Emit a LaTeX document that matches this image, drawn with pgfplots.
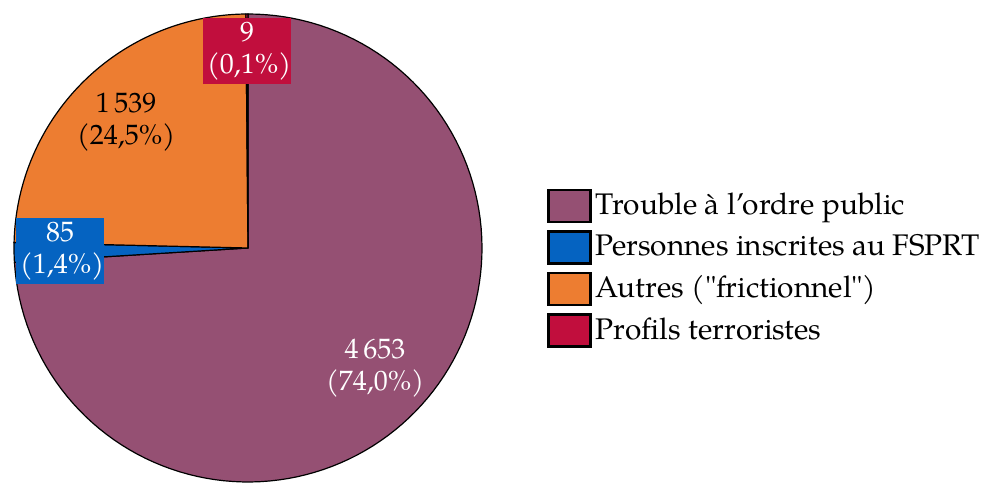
\documentclass[border=0pt]{standalone}
\usepackage{fontspec}
\setmainfont{TeX Gyre Pagella}[Ligatures=TeXOff]
\usepackage{pgfplots}
\usepackage{pgfplotstable}
\pgfplotsset{compat=1.18}

\definecolor{cTrouble}{HTML}{955073}
\definecolor{cFSPRT}{HTML}{0563C1}
\definecolor{cAutres}{HTML}{ED7D31}
\definecolor{cProfils}{HTML}{C10E3D}

\pgfplotstableread{
cat value
Trouble 4653
FSPRT 85
Autres 1539
Profils 9
}\piedata

\pgfplotstablegetelem{0}{value}\of\piedata \let\vA\pgfplotsretval
\pgfplotstablegetelem{1}{value}\of\piedata \let\vB\pgfplotsretval
\pgfplotstablegetelem{2}{value}\of\piedata \let\vC\pgfplotsretval
\pgfplotstablegetelem{3}{value}\of\piedata \let\vD\pgfplotsretval

\pgfmathsetmacro\total{\vA+\vB+\vC+\vD}
% angles, clockwise from the top
\pgfmathsetmacro\aO{90}
\pgfmathsetmacro\aA{\aO-360*(\vA/\total)}
\pgfmathsetmacro\aB{\aA-360*(\vB/\total)}
\pgfmathsetmacro\aC{\aB-360*(\vC/\total)}
\pgfmathsetmacro\aD{\aC-360*(\vD/\total)}

\begin{document}
\fontsize{14}{16}\selectfont
\begin{tikzpicture}
\useasboundingbox (-7pt,-7pt) rectangle (489pt,241pt);
\begin{axis}[
    at={(0pt,0pt)}, anchor=south west,
    width=234pt, height=234pt, scale only axis,
    xmin=-1, xmax=1, ymin=-1, ymax=1,
    hide axis,
    clip=false,
    legend style={at={(1.126,0.457)}, anchor=west, draw=none, fill=none,
        row sep=3.6pt, font=\fontsize{14.9}{17}\selectfont,
        /tikz/every even column/.append style={column sep=0pt}},
    legend cell align=left,
    legend image code/.code={
        \draw[#1, draw=black, line width=1.2pt] (0pt,-8pt) rectangle (21pt,8pt);
    },
    every axis plot/.append style={draw=black, line width=0.6pt, samples=120, variable=\t},
]
\addplot[fill=cTrouble, domain=\aA:\aO] ({cos(t)},{sin(t)}) -- (axis cs:0,0) -- cycle;
\addplot[fill=cFSPRT, domain=\aB:\aA] ({cos(t)},{sin(t)}) -- (axis cs:0,0) -- cycle;
\addplot[fill=cAutres, domain=\aC:\aB] ({cos(t)},{sin(t)}) -- (axis cs:0,0) -- cycle;
\addplot[fill=cProfils, domain=\aD:\aC, samples=5] ({cos(t)},{sin(t)}) -- (axis cs:0,0) -- cycle;
\legend{Trouble à l’ordre public, Personnes inscrites au FSPRT, Autres ("frictionnel"), Profils terroristes}

\node[fill=cProfils, text=white, align=center, text width=40pt, minimum height=31.5pt, inner sep=2pt] at (axis cs:-0.004,0.842) {9\\(0,1\%)};
\node[text=black, align=center] at (axis cs:-0.521,0.538) {1\,539\\(24,5\%)};
\node[fill=cFSPRT, text=white, align=center, text width=40pt, minimum height=31.5pt, inner sep=2pt] at (axis cs:-0.803,-0.013) {85\\(1,4\%)};
\node[text=white, align=center] at (axis cs:0.543,-0.513) {4\,653\\(74,0\%)};
\end{axis}
\end{tikzpicture}
\end{document}
